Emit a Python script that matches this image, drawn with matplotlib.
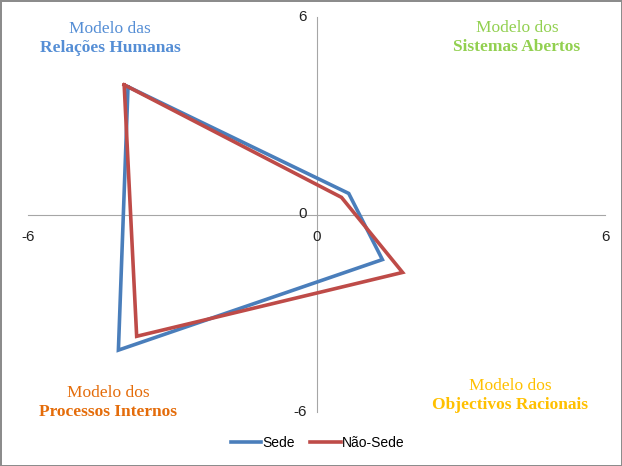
import matplotlib.pyplot as plt
from matplotlib.lines import Line2D

# quadrant coordinates, order: top-left, top-right, bottom-right, bottom-left
sede_x = [-3.92, 0.67, 1.37, -4.12]
sede_y = [3.88, 0.64, -1.37, -4.12]
nao_sede_x = [-4.00, 0.52, 1.79, -3.74]
nao_sede_y = [3.94, 0.52, -1.76, -3.70]

series_names = ["Sede", "Não-Sede"]
ticks = [-6, 0, 6]

W, H = 622, 466
fig = plt.figure(figsize=(W / 100, H / 100), dpi=100)
fig.patch.set_edgecolor("#8c8c8c")
fig.patch.set_linewidth(2)

ax = fig.add_axes([28 / W, 1 - 412 / H, (605 - 28) / W, (412 - 17) / H])

def closed(v):
    return v + [v[0]]

ax.plot(closed(sede_x), closed(sede_y), color="#4a7ebb", lw=2.6, solid_joinstyle="miter")
ax.plot(closed(nao_sede_x), closed(nao_sede_y), color="#be4b48", lw=2.6, solid_joinstyle="miter")

ax.set_xlim(-6, 6)
ax.set_ylim(-6, 6)
for s in ["top", "right"]:
    ax.spines[s].set_visible(False)
ax.spines["left"].set_position("zero")
ax.spines["bottom"].set_position("zero")
ax.spines["left"].set_color("#a6a6a6")
ax.spines["bottom"].set_color("#a6a6a6")
ax.spines["left"].set_zorder(0)
ax.spines["bottom"].set_zorder(0)
ax.set_xticks(ticks)
ax.set_yticks(ticks)
ax.tick_params(length=0)
ax.set_xticklabels([])
ax.set_yticklabels([])

# tick labels placed like the original (x below axis, y left of axis)
tfont = dict(family="Liberation Sans", fontsize=11, color="#222222")
for t in ticks:
    ax.annotate(str(t), (t, 0), xytext=(0, -11), textcoords="offset points",
                ha="center", va="top", **tfont)
    ax.annotate(str(t), (0, t), xytext=(-7, 0), textcoords="offset points",
                ha="right", va="center", **tfont)

def quad(x, y, l1, l2, color):
    fig.text(x / W, 1 - y / H, l1, ha="center", va="center",
             family="Liberation Serif", fontsize=12.5, color=color)
    fig.text(x / W, 1 - (y + 19) / H, l2, ha="center", va="center",
             family="Liberation Serif", fontsize=12.5, fontweight="bold", color=color)

quad(110, 29, "Modelo das", "Relações Humanas", "#558ed5")
quad(517, 28, "Modelo dos", "Sistemas Abertos", "#92d050")
quad(108, 393, "Modelo dos", "Processos Internos", "#e46c0a")
quad(510, 386, "Modelo dos", "Objectivos Racionais", "#ffc000")

handles = [Line2D([], [], color="#4a7ebb", lw=2.6),
           Line2D([], [], color="#be4b48", lw=2.6)]
fig.legend(handles, series_names, loc="center", bbox_to_anchor=(0.511, 1 - 443 / H),
           ncol=2, frameon=False, prop={"family": "Liberation Sans", "size": 10},
           handlelength=2.2, handletextpad=0.1, columnspacing=1.1)

fig.savefig("out.png", dpi=100)
